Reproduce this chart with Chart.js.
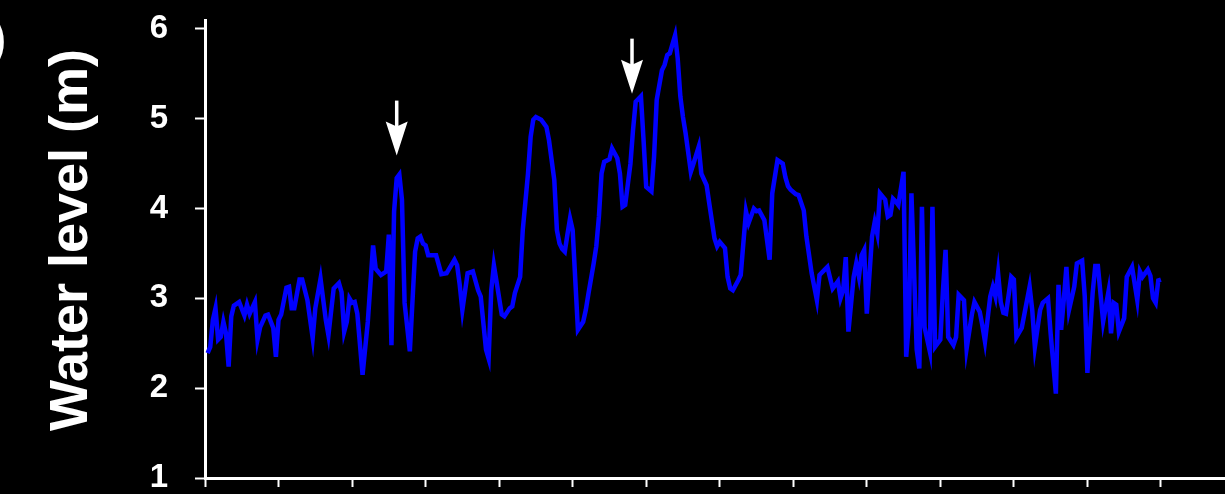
<!DOCTYPE html>
<html>
<head>
<meta charset="utf-8">
<script src="https://cdn.jsdelivr.net/npm/chart.js@4.4.0/dist/chart.umd.min.js"></script>
<style>
  html, body { margin: 0; padding: 0; background: #000; }
  #wrap { width: 1225px; height: 494px; position: relative; }
</style>
</head>
<body>
<div id="wrap"><canvas id="chart"></canvas></div>
<script>
// day of record (ticks every 28 days) and water level in metres
const days = [1,2,3,4,5,6,7,8,9,10,11,12,13,15,16,17,19,20,21,23,24,26,27,28,29,31,32,33,34,36,37,39,41,42,44,46,47,49,51,52,53,54,55,56,57,58,60,62,64,65,67,69,70,71,72,73,74,
  75,76,78,80,81,82,83,84,85,88,90,92,95,96,97,98,100,102,104,105,107,108,109,110,111,113,114,116,117,118,120,121,123,124,125,126,128,130,131,133,134,135,136,137,138,139,140,
  142,144,145,146,148,149,150,151,152,154,155,157,158,159,160,162,163,164,166,167,168,170,171,172,174,175,176,177,179,180,181,182,183,185,186,188,189,191,192,194,195,196,198,
  199,200,201,203,204,206,207,209,210,211,213,215,216,218,220,221,222,223,225,226,228,229,231,233,234,236,237,239,241,242,243,244,245,247,248,249,250,251,252,254,255,256,257,
  259,260,261,262,263,264,266,267,268,269,271,272,273,274,276,277,278,280,281,282,283,285,286,287,289,290,292,293,295,296,297,299,300,301,302,303,304,305,307,308,309,311,
  314,315,316,318,319,321,322,324,325,326,327,328,329,331,332,334,335,336,338,339,340,342,344,345,346,347,348,350,351,353,355,356,357,359,360,361,362,363,364];
const levels = [2.39,2.46,2.76,2.89,2.54,2.57,2.74,2.61,2.24,2.80,2.92,2.94,2.96,2.81,2.93,2.83,2.96,2.54,2.68,2.81,2.82,2.67,2.35,2.76,2.82,3.12,3.13,2.89,2.89,3.21,3.21,2.98,2.56,2.89,3.22,2.76,2.59,3.11,3.17,3.07,2.63,2.74,3.00,2.95,2.96,2.83,2.15,2.74,3.59,3.33,3.26,3.30,3.71,2.48,3.97,4.34,4.38,
  4.10,2.95,2.41,3.52,3.67,3.69,3.61,3.59,3.48,3.48,3.27,3.28,3.43,3.37,3.15,2.87,3.28,3.30,3.09,3.02,2.43,2.33,3.09,3.37,3.19,2.82,2.80,2.89,2.91,3.06,3.24,3.76,4.39,4.80,4.99,5.02,4.99,4.91,4.76,4.32,3.76,3.61,3.55,3.52,3.71,3.89,3.76,
  2.65,2.74,2.87,3.05,3.39,3.58,3.91,4.39,4.52,4.55,4.67,4.56,4.39,4.02,4.04,4.50,4.88,5.19,5.25,4.76,4.24,4.19,4.58,5.21,5.54,5.60,5.71,5.73,5.93,5.67,5.25,5.02,4.84,4.41,4.50,4.69,4.39,4.26,4.06,3.67,3.58,3.63,3.56,
  3.24,3.11,3.09,3.20,3.26,3.97,3.84,4.00,3.97,3.98,3.87,3.43,4.17,4.54,4.50,4.35,4.25,4.21,4.16,4.15,3.98,3.69,3.28,2.98,3.26,3.32,3.35,3.11,3.19,3.00,3.09,3.46,2.63,3.24,3.39,3.24,3.48,3.54,2.83,3.69,3.85,3.72,4.17,
  4.10,3.91,3.93,4.11,4.08,4.04,4.41,2.35,2.72,4.17,2.43,2.22,4.02,2.68,2.41,4.02,2.46,2.54,3.09,3.54,2.57,2.48,2.57,3.04,2.98,2.44,2.82,2.96,2.85,2.70,2.52,3.02,3.13,3.02,3.28,2.96,2.84,2.83,3.24,3.21,2.57,2.67,
  3.13,2.87,2.46,2.87,2.95,3.00,2.61,1.94,3.15,2.65,2.98,3.35,2.87,3.13,3.39,3.42,3.02,2.17,3.06,3.36,3.36,2.74,3.07,2.61,2.95,2.93,2.63,2.78,3.24,3.35,2.98,3.30,3.24,3.32,3.25,3.00,2.95,3.20,3.21];

const yTicks = [1, 2, 3, 4, 5, 6];
const xTicks = [0, 28, 56, 84, 112, 140, 168, 196, 224, 252, 280, 308, 336, 364];

// the two marked events (day, level at arrow tip)
const arrowDays = [73, 162.6];
const arrowLevels = [4.59, 5.28];

const yTitle = 'Water level (m)';
const panelLabel = '(a)';

const decorations = {
  id: 'decorations',
  afterDatasetsDraw(chart) {
    const { ctx, scales: { x, y } } = chart;
    ctx.save();
    ctx.fillStyle = '#fff';
    ctx.strokeStyle = '#fff';
    arrowDays.forEach((d, i) => {
      const px = x.getPixelForValue(d);
      const tip = y.getPixelForValue(arrowLevels[i]);
      ctx.lineWidth = 3.5;
      ctx.beginPath();
      ctx.moveTo(px, tip - 55);
      ctx.lineTo(px, tip - 28);
      ctx.stroke();
      ctx.beginPath();
      ctx.moveTo(px, tip);
      ctx.lineTo(px - 11, tip - 34);
      ctx.lineTo(px, tip - 29);
      ctx.lineTo(px + 11, tip - 34);
      ctx.closePath();
      ctx.fill();
    });
    ctx.restore();
  },
  afterDraw(chart) {
    const { ctx } = chart;
    ctx.save();
    ctx.fillStyle = '#fff';
    ctx.font = 'bold 54px "Liberation Sans", Arial, sans-serif';
    ctx.textAlign = 'center';
    ctx.textBaseline = 'middle';
    ctx.translate(72, 240);
    ctx.rotate(-Math.PI / 2);
    ctx.fillText(yTitle, 0, 0);
    ctx.restore();

    ctx.save();
    ctx.fillStyle = '#fff';
    ctx.font = 'bold 46px "Liberation Sans", Arial, sans-serif';
    ctx.textAlign = 'right';
    ctx.textBaseline = 'alphabetic';
    ctx.fillText(panelLabel, 6, 54);
    ctx.restore();
  }
};

new Chart(document.getElementById('chart'), {
  type: 'line',
  data: {
    datasets: [{
      data: days.map((d, i) => ({ x: d, y: levels[i] })),
      borderColor: '#0000ff',
      borderWidth: 4.5,
      pointRadius: 0,
      tension: 0,
      fill: false
    }]
  },
  options: {
    responsive: true,
    maintainAspectRatio: false,
    animation: false,
    layout: { padding: { top: 20, right: 0, bottom: 7, left: 0 } },
    plugins: {
      legend: { display: false },
      tooltip: { enabled: false }
    },
    scales: {
      x: {
        type: 'linear',
        min: 0,
        max: 388.4,
        afterBuildTicks: (scale) => { scale.ticks = xTicks.map(v => ({ value: v })); },
        afterFit: (scale) => { scale.paddingLeft = 0; scale.paddingRight = 0; },
        ticks: { display: false },
        grid: { drawOnChartArea: false, drawTicks: true, tickLength: 9, tickColor: '#fff', tickWidth: 2 },
        border: { color: '#fff', width: 3 }
      },
      y: {
        min: 1,
        max: 6.1,
        afterBuildTicks: (scale) => { scale.ticks = yTicks.map(v => ({ value: v })); },
        afterFit: (scale) => {
          scale.width = 205;
          scale.paddingTop = 0;
          scale.paddingBottom = 0;
        },
        ticks: {
          color: '#fff',
          padding: 27,
          font: { family: '"Liberation Sans", Arial, sans-serif', size: 33, weight: 'bold' }
        },
        grid: { drawOnChartArea: false, drawTicks: true, tickLength: 10, tickColor: '#fff', tickWidth: 2 },
        border: { color: '#fff', width: 3 }
      }
    }
  },
  plugins: [decorations]
});
</script>
</body>
</html>
